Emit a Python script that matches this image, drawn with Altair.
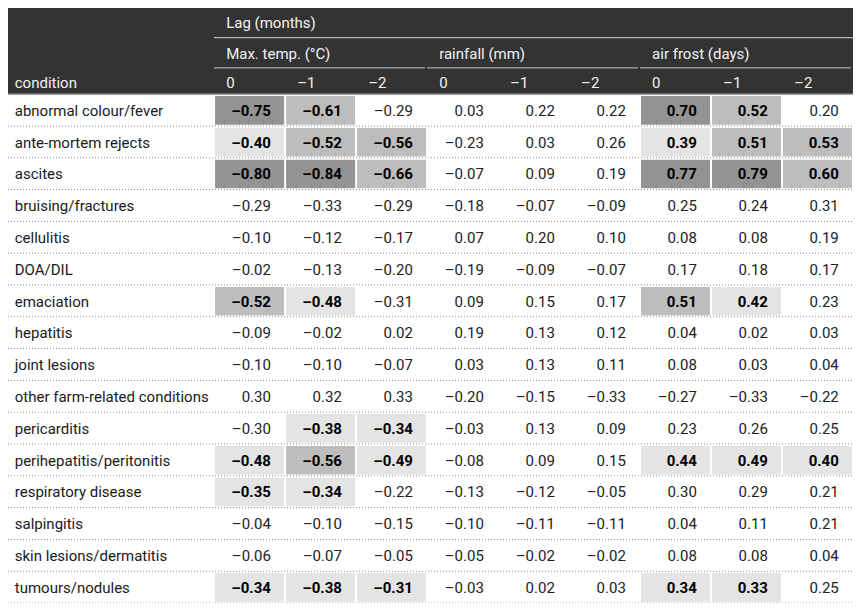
import altair as alt
import pandas as pd

# ---------------- data ----------------
conditions = [
    "abnormal colour/fever", "ante-mortem rejects", "ascites", "bruising/fractures",
    "cellulitis", "DOA/DIL", "emaciation", "hepatitis", "joint lesions",
    "other farm-related conditions", "pericarditis", "perihepatitis/peritonitis",
    "respiratory disease", "salpingitis", "skin lesions/dermatitis", "tumours/nodules",
]
groups = ["Max. temp. (\u00b0C)", "rainfall (mm)", "air frost (days)"]
lags = ["0", "\u20131", "\u20132"]

max_temp = [
    [-0.75, -0.61, -0.29], [-0.40, -0.52, -0.56], [-0.80, -0.84, -0.66], [-0.29, -0.33, -0.29],
    [-0.10, -0.12, -0.17], [-0.02, -0.13, -0.20], [-0.52, -0.48, -0.31], [-0.09, -0.02, 0.02],
    [-0.10, -0.10, -0.07], [0.30, 0.32, 0.33], [-0.30, -0.38, -0.34], [-0.48, -0.56, -0.49],
    [-0.35, -0.34, -0.22], [-0.04, -0.10, -0.15], [-0.06, -0.07, -0.05], [-0.34, -0.38, -0.31],
]
rainfall = [
    [0.03, 0.22, 0.22], [-0.23, 0.03, 0.26], [-0.07, 0.09, 0.19], [-0.18, -0.07, -0.09],
    [0.07, 0.20, 0.10], [-0.19, -0.09, -0.07], [0.09, 0.15, 0.17], [0.19, 0.13, 0.12],
    [0.03, 0.13, 0.11], [-0.20, -0.15, -0.33], [-0.03, 0.13, 0.09], [-0.08, 0.09, 0.15],
    [-0.13, -0.12, -0.05], [-0.10, -0.11, -0.11], [-0.05, -0.02, -0.02], [-0.03, 0.02, 0.03],
]
air_frost = [
    [0.70, 0.52, 0.20], [0.39, 0.51, 0.53], [0.77, 0.79, 0.60], [0.25, 0.24, 0.31],
    [0.08, 0.08, 0.19], [0.17, 0.18, 0.17], [0.51, 0.42, 0.23], [0.04, 0.02, 0.03],
    [0.08, 0.03, 0.04], [-0.27, -0.33, -0.22], [0.23, 0.26, 0.25], [0.44, 0.49, 0.40],
    [0.30, 0.29, 0.21], [0.04, 0.11, 0.21], [0.08, 0.08, 0.04], [0.34, 0.33, 0.25],
]
# significant (bold + shaded) flags, 9 columns per condition
significant = [
    [1, 1, 0, 0, 0, 0, 1, 1, 0], [1, 1, 1, 0, 0, 0, 1, 1, 1], [1, 1, 1, 0, 0, 0, 1, 1, 1],
    [0] * 9, [0] * 9, [0] * 9, [1, 1, 0, 0, 0, 0, 1, 1, 0], [0] * 9, [0] * 9, [0] * 9,
    [0, 1, 1, 0, 0, 0, 0, 0, 0], [1, 1, 1, 0, 0, 0, 1, 1, 1], [1, 1, 0, 0, 0, 0, 0, 0, 0],
    [0] * 9, [0] * 9, [1, 1, 1, 0, 0, 0, 1, 1, 0],
]

# ---------------- layout / style ----------------
W, H = 845, 595
LBL = 2.903          # label column width in data-column units
HDR = 2.71           # header height in row units
FONT = "Roboto, sans-serif"
FS = 15
shade_names = ["dark", "medium", "light"]
shade_colors = ["#939393", "#bdbdbd", "#e4e4e4"]

xs = alt.Scale(domain=[-LBL, 9], nice=False, zero=False)
ys = alt.Scale(domain=[-HDR, 16], reverse=True, nice=False, zero=False)


def fmt(v):
    return ("\u2013" if v < 0 else "") + f"{abs(v):.2f}"


rows = []
for r, cond in enumerate(conditions):
    vals = max_temp[r] + rainfall[r] + air_frost[r]
    for c, v in enumerate(vals):
        sig = significant[r][c]
        a = abs(v)
        shade = ("dark" if a >= 0.7 else "medium" if a >= 0.5 else "light") if sig else "none"
        rows.append(dict(row=r, col=c, value=v, label=fmt(v), sig=sig, shade=shade))
cells = pd.DataFrame(rows)
cells["x0"] = cells["col"] + 0.014
cells["x1"] = cells["col"] + 1 - 0.014
cells["y0"] = cells["row"] + 0.06
cells["y1"] = cells["row"] + 1 - 0.04
cells["xt"] = cells["col"] + 1 - 0.2
cells["yt"] = cells["row"] + 0.52

cond_df = pd.DataFrame({"condition": conditions, "row": range(len(conditions))})
cond_df["x"] = -LBL + 0.095
cond_df["y"] = cond_df["row"] + 0.52

sep_df = pd.DataFrame({"y": [r + 1 for r in range(len(conditions))], "x0": -LBL, "x1": 9})

# header
hdr_bg = pd.DataFrame({"x0": [-LBL], "x1": [9], "y0": [-HDR], "y1": [0]})
lag_line = pd.DataFrame({"x0": [0], "x1": [9], "y": [-1.776]})
grp_lines = pd.DataFrame({"x0": [g * 3 + 0.0 for g in range(3)],
                          "x1": [g * 3 + 3 - 0.03 for g in range(3)],
                          "y": [-0.827] * 3})
hdr_bottom = pd.DataFrame({"x0": [-LBL], "x1": [9], "y": [0]})
hdr_text = pd.DataFrame(
    [dict(t="Lag (months)", x=0.17, y=-2.251)]
    + [dict(t=g, x=i * 3 + 0.17, y=-1.271) for i, g in enumerate(groups)]
    + [dict(t=lags[c % 3], x=c + 0.17, y=-0.352) for c in range(9)]
    + [dict(t="condition", x=-LBL + 0.095, y=-0.352)]
)

X = lambda f: alt.X(f, scale=xs, axis=None)
Y = lambda f: alt.Y(f, scale=ys, axis=None)

layers = [
    alt.Chart(hdr_bg).mark_rect(color="#333333").encode(x=X("x0:Q"), x2="x1:Q", y=Y("y0:Q"), y2="y1:Q"),
    alt.Chart(lag_line).mark_rule(color="#d8d8d8", strokeWidth=1).encode(x=X("x0:Q"), x2="x1:Q", y=Y("y:Q")),
    alt.Chart(grp_lines).mark_rule(color="#c8c8c8", strokeWidth=1).encode(x=X("x0:Q"), x2="x1:Q", y=Y("y:Q")),
    alt.Chart(hdr_bottom).mark_rule(color="#9a9a9a", strokeWidth=1.5).encode(x=X("x0:Q"), x2="x1:Q", y=Y("y:Q")),
    alt.Chart(hdr_text).mark_text(align="left", baseline="middle", font=FONT, fontSize=FS, color="#f2f2f2").encode(
        x=X("x:Q"), y=Y("y:Q"), text="t:N"),
    alt.Chart(cells).transform_filter("datum.sig == 1").mark_rect().encode(
        x=X("x0:Q"), x2="x1:Q", y=Y("y0:Q"), y2="y1:Q",
        color=alt.Color("shade:N", scale=alt.Scale(domain=shade_names, range=shade_colors), legend=None)),
    alt.Chart(sep_df).mark_rule(color="#8a8a8a", strokeWidth=1, strokeDash=[1, 2]).encode(
        x=X("x0:Q"), x2="x1:Q", y=Y("y:Q")),
    alt.Chart(cond_df).mark_text(align="left", baseline="middle", font=FONT, fontSize=FS, color="#1a1a1a").encode(
        x=X("x:Q"), y=Y("y:Q"), text="condition:N"),
    alt.Chart(cells).transform_filter("datum.sig == 0").mark_text(
        align="right", baseline="middle", font=FONT, fontSize=FS, color="#222222").encode(
        x=X("xt:Q"), y=Y("yt:Q"), text="label:N"),
    alt.Chart(cells).transform_filter("datum.sig == 1").mark_text(
        align="right", baseline="middle", font=FONT, fontSize=FS, fontWeight="bold", color="#000000").encode(
        x=X("xt:Q"), y=Y("yt:Q"), text="label:N"),
]

chart = alt.layer(*layers).properties(
    width=W, height=H, padding=0, autosize=alt.AutoSizeParams(type="none")
).configure_view(stroke=None)

chart.save("out.html", embed_options={"renderer": "svg", "actions": False})
